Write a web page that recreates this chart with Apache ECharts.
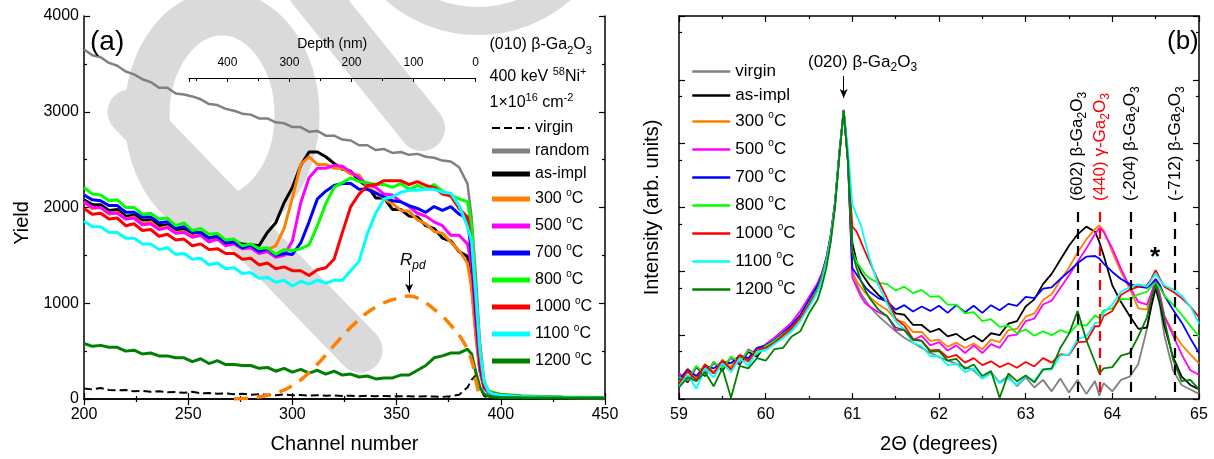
<!DOCTYPE html>
<html><head><meta charset="utf-8">
<script src="https://cdn.jsdelivr.net/npm/echarts@6/dist/echarts.min.js"></script>
<style>html,body{margin:0;padding:0;background:#fff}#c{width:1214px;height:459px}</style>
</head><body><div id="c"></div>
<script>
// ---------- Panel (a): RBS/channeling ----------
const chA = [200,204,208,212,216,220,224,228,232,236,
 240,244,248,252,256,260,264,268,272,276,
 280,284,288,292,296,300,304,308,312,316,
 320,324,328,332,336,340,344,348,352,356,
 360,364,368,372,376,380,384,386,388,390,
 392,394,396,400,410,420,430,440,450];
const yVirginA = [110,100,115,95,90,95,80,85,75,80,
 70,72,65,75,60,62,55,58,50,55,
 45,50,45,40,48,38,42,35,40,35,
 38,32,35,30,33,30,32,28,30,28,
 25,28,25,22,30,45,120,200,250,120,
 30,15,10,8,6,5,5,5,5];
const yRandomA = [3650,3590,3570,3510,3480,3420,3390,3340,3310,3250,
 3250,3190,3180,3160,3130,3080,3070,3030,3010,2980,
 2970,2930,2930,2890,2880,2840,2840,2790,2800,2750,
 2750,2710,2700,2650,2650,2600,2610,2570,2580,2550,
 2560,2530,2520,2490,2480,2420,2250,1900,1300,600,
 200,80,45,30,20,15,12,10,10];
const yAsImplA = [2080,2030,2030,1970,1980,1910,1920,1870,1870,1810,
 1820,1770,1770,1720,1740,1680,1700,1640,1640,1620,
 1610,1600,1740,1840,2050,2210,2440,2580,2580,2530,
 2460,2400,2380,2280,2220,2100,2100,1980,1980,1910,
 1900,1810,1780,1680,1650,1540,1490,1200,700,300,
 120,70,50,30,20,18,15,14,12];
const y300A = [2060,1990,2000,1930,1950,1880,1900,1830,1850,1780,
 1800,1740,1750,1700,1720,1660,1680,1620,1640,1580,
 1600,1540,1560,1600,1780,2100,2450,2530,2450,2450,
 2410,2410,2350,2340,2210,2160,2090,2040,1970,1960,
 1870,1830,1750,1730,1640,1550,1420,1150,650,280,
 110,70,50,35,22,18,15,14,12];
const y500A = [2060,2000,2000,1940,1940,1880,1890,1820,1830,1770,
 1790,1730,1740,1690,1710,1640,1670,1600,1620,1570,
 1580,1520,1540,1480,1500,1650,2050,2310,2410,2410,
 2440,2430,2370,2310,2240,2210,2140,2130,2060,2010,
 1940,1910,1850,1810,1710,1710,1620,1400,800,320,
 120,70,50,35,22,18,15,14,12];
const y700A = [2130,2080,2070,2020,2020,1950,1950,1900,1900,1840,
 1850,1780,1800,1740,1740,1680,1700,1630,1640,1580,
 1610,1540,1570,1500,1520,1510,1630,1850,2090,2170,
 2230,2250,2250,2190,2190,2150,2110,2070,2060,2020,
 1990,1950,2010,1970,2010,1930,1890,1500,900,350,
 130,75,55,40,25,20,16,15,13];
const y800A = [2210,2140,2130,2070,2080,2000,2000,1930,1940,1880,
 1890,1810,1840,1760,1780,1720,1730,1660,1670,1600,
 1620,1570,1580,1510,1560,1550,1570,1610,1810,2040,
 2210,2260,2310,2270,2260,2240,2240,2210,2250,2190,
 2230,2190,2240,2170,2130,2090,2060,1800,1100,450,
 160,90,70,50,35,25,20,18,15];
const y1000A = [1990,1930,1940,1880,1890,1810,1830,1760,1770,1700,
 1720,1660,1670,1600,1620,1560,1570,1520,1520,1460,
 1470,1400,1420,1360,1380,1340,1340,1290,1350,1370,
 1460,1740,2010,2140,2230,2240,2280,2280,2280,2240,
 2270,2230,2210,2140,2120,1990,1900,1600,1000,400,
 150,80,60,45,30,22,18,16,14];
const y1100A = [1860,1800,1800,1740,1740,1680,1680,1620,1620,1560,
 1580,1510,1520,1460,1470,1400,1420,1360,1370,1310,
 1320,1260,1270,1220,1240,1180,1230,1200,1240,1210,
 1240,1240,1340,1440,1730,1940,2090,2110,2160,2180,
 2180,2190,2190,2160,2150,2020,1800,1650,1100,500,
 180,80,55,40,25,20,17,15,13];
const y1200A = [580,550,560,540,540,500,510,470,480,450,
 450,430,430,390,420,370,400,360,360,350,
 350,320,330,290,320,280,310,270,300,260,
 290,250,260,230,240,210,220,220,250,250,
 300,350,430,450,480,480,520,470,280,120,
 50,30,20,15,12,10,10,10,10];
const rpdCh = [272,280,290,300,310,320,330,340,350,356,362,370,376,382,386,388,390];
const rpdY  = [0,10,50,140,320,560,790,960,1050,1075,1030,900,770,600,400,200,0];
const xTicksA = [200,250,300,350,400,450];
const depthTicks = [0,100,200,300,400];

// ---------- Panel (b): XRD (log10 of intensity, arb. units) ----------
const xB = [59.0,59.1,59.2,59.3,59.4,59.5,59.6,59.7,59.8,59.9,
 60.0,60.1,60.2,60.3,60.4,60.5,60.6,60.65,60.7,60.75,
 60.8,60.85,60.9,60.95,61.0,61.05,61.1,61.15,61.2,61.3,
 61.4,61.5,61.6,61.7,61.8,61.9,62.0,62.1,62.2,62.3,
 62.4,62.5,62.6,62.7,62.8,62.9,63.0,63.1,63.2,63.3,
 63.4,63.5,63.6,63.7,63.8,63.85,63.9,64.0,64.1,64.2,
 64.3,64.4,64.45,64.5,64.55,64.6,64.7,64.8,64.9,65.0];
const lgVirginB = [0.30,0.42,0.28,0.50,0.40,0.58,0.48,0.66,0.58,0.76,
 0.80,0.88,0.98,1.08,1.24,1.45,1.70,1.88,2.14,2.50,
 3.04,3.82,4.52,3.70,2.00,1.80,1.65,1.55,1.45,1.30,
 1.18,1.06,0.96,0.88,0.80,0.72,0.66,0.60,0.55,0.50,
 0.45,0.32,0.42,0.26,0.36,0.20,0.34,0.18,0.30,0.12,
 0.32,0.10,0.30,0.08,0.28,0.05,0.25,0.12,0.30,0.35,
 0.55,1.10,1.50,1.74,1.45,1.00,0.45,0.22,0.15,0.08];
const lgAsImplB = [0.40,0.26,0.50,0.36,0.58,0.44,0.66,0.54,0.74,0.66,
 0.85,0.88,1.02,1.12,1.28,1.50,1.74,1.92,2.18,2.55,
 3.08,3.85,4.53,3.75,2.45,2.15,1.98,1.88,1.78,1.63,
 1.52,1.34,1.32,1.16,1.16,1.05,1.10,0.98,1.02,0.92,
 0.99,0.90,1.03,1.00,1.18,1.22,1.45,1.56,1.80,1.96,
 2.18,2.40,2.58,2.70,2.62,2.46,2.25,1.78,1.52,1.30,
 1.10,1.12,1.45,1.74,1.50,1.15,0.66,0.35,0.22,0.15];
const lg300B = [0.28,0.48,0.34,0.55,0.42,0.62,0.50,0.70,0.60,0.80,
 0.80,0.93,0.98,1.13,1.24,1.50,1.73,1.91,2.17,2.53,
 3.06,3.83,4.52,3.72,2.00,1.85,1.75,1.66,1.60,1.48,
 1.40,1.24,1.20,1.05,1.05,0.91,0.93,0.82,0.88,0.80,
 0.87,0.78,0.93,0.89,1.08,1.10,1.29,1.34,1.55,1.64,
 1.86,2.06,2.30,2.50,2.66,2.72,2.64,2.30,1.99,1.73,
 1.42,1.40,1.65,1.88,1.64,1.30,1.05,0.85,0.70,0.56];
const lg500B = [0.40,0.28,0.50,0.42,0.55,0.52,0.64,0.56,0.78,0.70,
 0.86,0.96,1.08,1.20,1.38,1.60,1.82,1.98,2.22,2.56,
 3.08,3.84,4.52,3.70,1.90,1.75,1.60,1.50,1.45,1.36,
 1.30,1.08,1.08,0.92,0.99,0.84,0.89,0.76,0.84,0.72,
 0.84,0.72,0.86,0.80,0.99,1.01,1.22,1.26,1.48,1.54,
 1.74,1.94,2.15,2.36,2.58,2.68,2.62,2.36,2.04,1.76,
 1.52,1.48,1.66,1.86,1.62,1.30,1.00,0.70,0.45,0.38];
const lg700B = [0.30,0.46,0.36,0.52,0.48,0.58,0.56,0.68,0.64,0.80,
 0.84,0.92,1.04,1.16,1.32,1.55,1.78,1.95,2.20,2.55,
 3.07,3.84,4.52,3.72,2.05,1.95,1.85,1.75,1.68,1.58,
 1.53,1.40,1.47,1.37,1.45,1.38,1.46,1.35,1.47,1.36,
 1.46,1.35,1.47,1.39,1.49,1.46,1.60,1.58,1.73,1.75,
 1.88,2.00,2.13,2.23,2.24,2.20,2.12,1.99,1.88,1.80,
 1.76,1.74,1.80,1.88,1.78,1.62,1.40,1.20,0.95,0.72];
const lg800B = [0.34,0.30,0.52,0.38,0.58,0.48,0.66,0.58,0.76,0.70,
 0.83,0.91,1.02,1.12,1.28,1.50,1.72,1.92,2.18,2.54,
 3.06,3.83,4.52,3.76,2.30,2.15,2.05,1.95,1.89,1.82,
 1.80,1.70,1.76,1.66,1.71,1.60,1.61,1.48,1.48,1.34,
 1.36,1.22,1.25,1.13,1.15,1.03,1.09,0.99,1.06,1.00,
 1.08,1.03,1.17,1.15,1.31,1.27,1.39,1.42,1.57,1.56,
 1.64,1.68,1.76,1.82,1.74,1.62,1.48,1.32,1.15,0.98];
const lg1000B = [0.24,0.44,0.30,0.54,0.40,0.60,0.46,0.68,0.60,0.78,
 0.80,0.88,1.00,1.12,1.28,1.48,1.70,1.88,2.12,2.50,
 3.04,3.82,4.52,3.80,2.70,2.62,2.46,2.30,2.15,1.85,
 1.58,1.26,1.15,0.94,0.91,0.76,0.77,0.65,0.69,0.57,
 0.64,0.53,0.59,0.50,0.56,0.49,0.58,0.51,0.64,0.57,
 0.70,0.69,0.89,0.90,1.14,1.14,1.30,1.38,1.63,1.71,
 1.76,1.78,1.88,2.02,1.88,1.76,1.68,1.58,1.45,1.28];
const lg1100B = [0.20,0.38,0.16,0.48,0.34,0.56,0.42,0.64,0.52,0.74,
 0.76,0.86,0.95,1.06,1.22,1.44,1.68,1.86,2.12,2.50,
 3.04,3.82,4.52,3.90,3.05,2.88,2.72,2.45,2.20,1.78,
 1.50,1.22,1.09,0.88,0.83,0.67,0.67,0.53,0.55,0.42,
 0.48,0.32,0.40,0.25,0.32,0.22,0.36,0.28,0.47,0.46,
 0.68,0.70,0.94,0.98,1.19,1.20,1.35,1.48,1.68,1.75,
 1.80,1.76,1.86,1.97,1.86,1.78,1.72,1.62,1.45,1.18];
const lg1200B = [0.18,0.34,0.28,0.42,0.20,0.48,0.02,0.52,0.48,0.64,
 0.60,0.78,0.80,0.98,1.06,1.34,1.56,1.78,2.05,2.45,
 3.00,3.80,4.52,3.74,2.30,2.05,1.85,1.70,1.58,1.40,
 1.30,1.12,1.08,0.93,0.91,0.74,0.75,0.60,0.63,0.47,
 0.54,0.36,0.44,0.02,0.40,0.28,0.37,0.26,0.46,0.48,
 0.80,1.02,1.38,0.92,0.58,0.40,0.48,0.50,0.68,0.72,
 0.98,1.28,1.58,1.80,1.55,1.25,0.62,0.28,0.30,0.15];
const xTicksB = [59,60,61,62,63,64,65];
const refLinesB = [63.6, 63.86, 64.21, 64.72];   // 2θ positions of reference reflections
const refLabelsB = ['(602) β-Ga', '(440) γ-Ga', '(-204) β-Ga', '(-712) β-Ga'];

// ---------- build ----------
const FONT = '"Liberation Sans", Arial, Helvetica, sans-serif';
const pairsA = arr => chA.map((c, i) => [c, arr[i]]);
const pairsB = arr => xB.map((x, i) => [x, Math.pow(10, arr[i])]);
const ZW = '\u200b';

const leftDefs = [
  ['virgin', yVirginA, '#000000', 'dashed'],
  ['random', yRandomA, '#808080'],
  ['as-impl', yAsImplA, '#000000'],
  ['300 °C', y300A, '#ff8000'],
  ['500 °C', y500A, '#ff00ff'],
  ['700 °C', y700A, '#0000ff'],
  ['800 °C', y800A, '#00ff00'],
  ['1000 °C', y1000A, '#ff0000'],
  ['1100 °C', y1100A, '#00ffff'],
  ['1200 °C', y1200A, '#008000']
];
const rightDefs = [
  ['virgin', lgVirginB, '#808080'],
  ['as-impl', lgAsImplB, '#000000'],
  ['300 °C', lg300B, '#ff8000'],
  ['500 °C', lg500B, '#ff00ff'],
  ['700 °C', lg700B, '#0000ff'],
  ['800 °C', lg800B, '#00ff00'],
  ['1000 °C', lg1000B, '#ff0000'],
  ['1100 °C', lg1100B, '#00ffff'],
  ['1200 °C', lg1200B, '#008000']
];

const series = [];
leftDefs.forEach(d => {
  series.push({
    name: d[0], type: 'line', xAxisIndex: 0, yAxisIndex: 0,
    data: pairsA(d[1]), symbol: 'none', silent: true,
    lineStyle: {color: d[2], width: d[3] ? 2 : (d[0] === 'random' ? 2.5 : 3), type: d[3] || 'solid'},
    itemStyle: {color: d[2]}
  });
});
series.push({
  name: 'Rpd', type: 'line', xAxisIndex: 0, yAxisIndex: 0, smooth: true,
  data: rpdCh.map((c, i) => [c, rpdY[i]]), symbol: 'none', silent: true,
  lineStyle: {color: '#ff8000', width: 3.5, type: [14, 9]},
  markLine: {silent: true, symbol: ['none', 'arrow'], symbolSize: [6, 9], label: {show: false},
    lineStyle: {color: '#000', width: 1, type: 'solid'},
    data: [[{coord: [356, 1340]}, {coord: [356, 1110]}]]}
});
rightDefs.forEach((d, k) => {
  const s = {
    name: d[0] + ZW, type: 'line', xAxisIndex: 2, yAxisIndex: 2,
    data: pairsB(d[1]), symbol: 'none', silent: true,
    lineStyle: {color: d[2], width: 1.8}, itemStyle: {color: d[2]}
  };
  if (k === 0) {
    s.markLine = {silent: true, symbol: 'none', label: {show: false}, animation: false,
      data: refLinesB.map((x, i) => [
        {coord: [x, 850], lineStyle: {color: i === 1 ? '#ff0000' : '#000', width: 2.2, type: [10, 7]}},
        {coord: [x, 1]}
      ]).concat([[
        {coord: [60.9, 1.15e5], symbol: 'none', lineStyle: {color: '#000', width: 1, type: 'solid'}},
        {coord: [60.9, 5.2e4], symbol: 'arrow', symbolSize: [6, 9]}
      ]])
    };
  }
  series.push(s);
});

function legendFmt(name) {
  const n = name.replace(/\u200b/g, '');
  if (n.indexOf('°C') >= 0) return '{n|' + n.replace(' °C', '') + ' }{s|o}{n|C}';
  return n;
}
function legendCfg(names, left, top, fs, lw, dashedFirst) {
  return {
    orient: 'vertical', left: left, top: top, padding: 0,
    itemWidth: 38, itemHeight: 12, itemGap: 5, selectedMode: false,
    data: names.map((nm, i) => (i === 0 && dashedFirst) ? {name: nm, lineStyle: {width: 2}} : {name: nm}),
    lineStyle: {width: lw},
    itemStyle: {opacity: 0},
    formatter: legendFmt,
    textStyle: {fontSize: fs, fontFamily: FONT, color: '#000', lineHeight: fs + 2,
      rich: {n: {fontSize: fs, fontFamily: FONT, color: '#000', lineHeight: fs + 6},
             s: {fontSize: 10, fontFamily: FONT, color: '#000', lineHeight: fs + 6, verticalAlign: 'top'}}}
  };
}

const axisCommon = {
  axisLine: {lineStyle: {color: '#000', width: 1.5}},
  axisTick: {inside: true, length: 6, lineStyle: {color: '#000', width: 1.2}},
  minorTick: {show: true, splitNumber: 2, length: 3, lineStyle: {color: '#000', width: 1.2}},
  splitLine: {show: false}
};
const lblStyle = {fontSize: 16, color: '#000', fontFamily: FONT};
function ax(extra) { return Object.assign({}, JSON.parse(JSON.stringify(axisCommon)), extra); }

const richTxt = fs => ({
  n: {fontSize: fs, fontFamily: FONT, fill: '#000', lineHeight: fs + 6},
  r: {fontSize: fs, fontFamily: FONT, fill: '#ff0000', lineHeight: fs + 6},
  b: {fontSize: Math.round(fs * 0.68), fontFamily: FONT, fill: '#000', lineHeight: fs + 6, verticalAlign: 'bottom'},
  rb: {fontSize: Math.round(fs * 0.68), fontFamily: FONT, fill: '#ff0000', lineHeight: fs + 6, verticalAlign: 'bottom'},
  t: {fontSize: Math.round(fs * 0.68), fontFamily: FONT, fill: '#000', lineHeight: fs + 6, verticalAlign: 'top'},
  i: {fontSize: fs, fontFamily: FONT, fontStyle: 'italic', fill: '#000', lineHeight: fs + 6},
  ib: {fontSize: Math.round(fs * 0.68), fontFamily: FONT, fontStyle: 'italic', fill: '#000', lineHeight: fs + 6, verticalAlign: 'bottom'}
});
function txt(x, y, text, fs, extra) {
  return Object.assign({type: 'text', x: x, y: y, z: 100, silent: true,
    style: {text: text, rich: richTxt(fs), font: fs + 'px ' + FONT, fill: '#000', textAlign: 'left', verticalAlign: 'middle'}}, extra || {});
}

const WM = '#dadada';
const graphic = [
  {type: 'ellipse', z: -10, silent: true, shape: {cx: 222, cy: 115, rx: 75, ry: 102}, style: {fill: 'none', stroke: WM, lineWidth: 45}},
  {type: 'line', z: -10, silent: true, shape: {x1: 130, y1: 112, x2: 360, y2: 350}, style: {stroke: WM, lineWidth: 45, lineCap: 'round'}},
  {type: 'line', z: -10, silent: true, shape: {x1: 311, y1: -10, x2: 422, y2: 128}, style: {stroke: WM, lineWidth: 46, lineCap: 'round'}},
  {type: 'arc', z: -10, silent: true, shape: {cx: 478, cy: -105, r: 126, startAngle: 0, endAngle: Math.PI}, style: {fill: 'none', stroke: WM, lineWidth: 28}},
  {type: 'rect', z: -20, silent: true, shape: {x: 0, y: 0, width: 1214, height: 459}, style: {fill: '#fff'}},
  txt(90, 42, '(a)', 28),
  txt(489.5, 45, '{n|(010) β-Ga}{b|2}{n|O}{b|3}', 16),
  txt(489.5, 77, '{n|400 keV }{t|58}{n|Ni}{t|+}', 16),
  txt(489.5, 103, '{n|1×10}{t|16}{n| cm}{t|-2}', 16),
  txt(400, 260, '{i|R}{ib|pd}', 17),
  txt(1167, 42, '(b)', 26),
  txt(808, 62, '{n|(020) β-Ga}{b|2}{n|O}{b|3}', 17),
  txt(1150, 258, '*', 26, {style: {text: '*', font: 'bold 26px ' + FONT, fill: '#000', textAlign: 'left', verticalAlign: 'middle'}}),
  txt(22, 223, 'Yield', 20, {rotation: Math.PI / 2, style: {text: 'Yield', font: '20px ' + FONT, fill: '#000', textAlign: 'center', verticalAlign: 'middle'}})
];
const rotX = [1077, 1100.5, 1130.5, 1175.5];
refLabelsB.forEach((lab, i) => {
  const red = i === 1;
  const t = red ? '{r|' + lab + '}{rb|2}{r|O}{rb|3}' : '{n|' + lab + '}{b|2}{n|O}{b|3}';
  graphic.push(txt(rotX[i], 201, t, 17, {rotation: Math.PI / 2}));
});

const option = {
  animation: false,
  backgroundColor: '#ffffff',
  grid: [
    {left: 84, top: 16, width: 521, height: 385},
    {left: 679, top: 16, width: 520, height: 385},
    {left: 189, top: 76, width: 286.5, height: 2}
  ],
  xAxis: [
    ax({gridIndex: 0, type: 'value', min: 200, max: 450, interval: 50,
      axisLabel: Object.assign({margin: 8, formatter: v => String(v)}, lblStyle),
      name: 'Channel number', nameLocation: 'middle', nameGap: 35,
      nameTextStyle: {fontSize: 20, color: '#000', fontFamily: FONT}}),
    ax({gridIndex: 0, type: 'value', min: 200, max: 450, interval: 50, position: 'top', axisLabel: {show: false}}),
    ax({gridIndex: 1, type: 'value', min: 59, max: 65, interval: 1,
      axisLabel: Object.assign({margin: 8, formatter: v => String(v)}, lblStyle),
      name: '2Θ (degrees)', nameLocation: 'middle', nameGap: 35,
      nameTextStyle: {fontSize: 20, color: '#000', fontFamily: FONT}}),
    ax({gridIndex: 1, type: 'value', min: 59, max: 65, interval: 1, position: 'top', axisLabel: {show: false}}),
    {gridIndex: 2, type: 'value', min: 0, max: 462, interval: 100, inverse: true, position: 'top',
      axisLine: {lineStyle: {color: '#000', width: 1.2}},
      axisTick: {inside: true, length: 4, lineStyle: {color: '#000'}},
      minorTick: {show: true, splitNumber: 2, length: 3, lineStyle: {color: '#000'}},
      splitLine: {show: false},
      axisLabel: {fontSize: 12, color: '#000', fontFamily: FONT, margin: 7,
        formatter: v => depthTicks.indexOf(v) >= 0 ? String(v) : ''},
      name: 'Depth (nm)', nameLocation: 'middle', nameGap: 25,
      nameTextStyle: {fontSize: 14, color: '#000', fontFamily: FONT}}
  ],
  yAxis: [
    ax({gridIndex: 0, type: 'value', min: 0, max: 4000, interval: 1000,
      axisLabel: Object.assign({margin: 5, formatter: v => String(v)}, lblStyle)}),
    ax({gridIndex: 0, type: 'value', min: 0, max: 4000, interval: 1000, position: 'right', axisLabel: {show: false}}),
    ax({gridIndex: 1, type: 'log', logBase: 10, min: 1, max: 1e6, splitNumber: 6,
      axisLabel: {show: false},
      minorTick: {show: true, splitNumber: 2, length: 3, lineStyle: {color: '#000', width: 1.2}},
      name: 'Intensity (arb. units)', nameLocation: 'middle', nameGap: 17,
      nameTextStyle: {fontSize: 20, color: '#000', fontFamily: FONT}}),
    ax({gridIndex: 1, type: 'log', logBase: 10, min: 1, max: 1e6, splitNumber: 6, position: 'right',
      axisLabel: {show: false},
      minorTick: {show: true, splitNumber: 2, length: 3, lineStyle: {color: '#000', width: 1.2}}}),
    {gridIndex: 2, type: 'value', show: false, min: 0, max: 1}
  ],
  legend: [
    legendCfg(leftDefs.map(d => d[0]), 489.5, 119, 16, 5, true),
    legendCfg(rightDefs.map(d => d[0] + ZW), 691, 62, 17, 2.5, false)
  ],
  graphic: graphic,
  series: series
};

const chart = echarts.init(document.getElementById('c'), null, {renderer: 'canvas'});
chart.setOption(option);
</script>
</body></html>
